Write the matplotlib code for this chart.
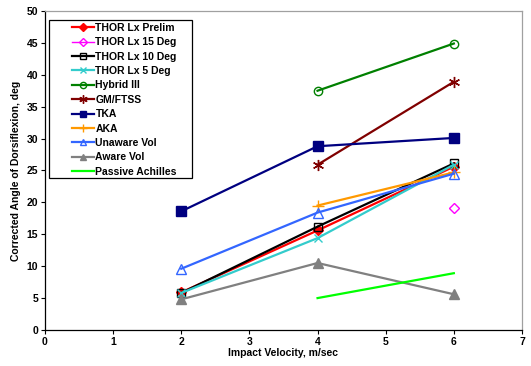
import numpy as np
import matplotlib
matplotlib.use("Agg")
import matplotlib.pyplot as plt
from matplotlib.patches import Rectangle

nan = np.nan
velocity = [2, 4, 6]

series_names = ["THOR Lx Prelim", "THOR Lx 15 Deg", "THOR Lx 10 Deg", "THOR Lx 5 Deg",
                "Hybrid III", "GM/FTSS", "TKA", "AKA", "Unaware Vol", "Aware Vol",
                "Passive Achilles"]

thor_prelim = [5.9, 15.6, 25.6]
thor_15 = [nan, nan, 19.1]
thor_10 = [5.8, 16.2, 26.1]
thor_5 = [5.8, 14.4, 25.9]
hybrid3 = [nan, 37.5, 44.9]
gm_ftss = [nan, 25.9, 38.9]
tka = [18.6, 28.8, 30.1]
aka = [nan, 19.5, 24.7]
unaware = [9.6, 18.4, 24.5]
aware = [4.8, 10.5, 5.6]
passive = [nan, 5.0, 8.9]

data = [thor_prelim, thor_15, thor_10, thor_5, hybrid3, gm_ftss, tka, aka, unaware, aware, passive]

styles = [
	dict(color="#FF0000", marker="D", mfc="#FF0000", ms=5),
	dict(color="#FF00FF", marker="D", mfc="none", ms=5, lw=1.0),
	dict(color="#000000", marker="s", mfc="none", ms=6),
	dict(color="#33CCCC", marker="x", ms=6, mew=1.0),
	dict(color="#008000", marker="o", mfc="none", ms=6),
	dict(color="#800000", marker=(6, 2, 0), ms=8, mew=1.0),
	dict(color="#000080", marker="s", mfc="#000080", ms=6.5),
	dict(color="#FF9900", marker="+", ms=8, mew=1.0),
	dict(color="#3366FF", marker="^", mfc="none", ms=6.5),
	dict(color="#808080", marker="^", mfc="#808080", ms=6.5),
	dict(color="#00FF00", marker=None),
]

plt.rcParams["font.family"] = ["Liberation Sans", "DejaVu Sans"]
plt.rcParams["font.weight"] = "bold"

fig = plt.figure(figsize=(5.31, 3.66), dpi=100)
ax = fig.add_axes([0.0847, 0.0984, 0.8983, 0.8716])

for name, vals, st in zip(series_names, data, styles):
	st = dict(st)
	lw = st.pop("lw", 1.6)
	ax.plot(velocity, vals, label=name, lw=lw, mec=st["color"], **st)

ax.set_xlim(0, 7)
ax.set_ylim(0, 50)
ax.set_xticks(range(0, 8))
ax.set_yticks(range(0, 51, 5))
ax.tick_params(direction="out", length=3, width=0.8, labelsize=7.5, pad=2)
for lab in ax.get_xticklabels() + ax.get_yticklabels():
	lab.set_fontweight("bold")

for s in ("left", "bottom"):
	ax.spines[s].set_color("black")
	ax.spines[s].set_linewidth(0.9)
for s in ("top", "right"):
	ax.spines[s].set_color("#A0A0A0")
	ax.spines[s].set_linewidth(0.9)

ax.set_xlabel("Impact Velocity, m/sec", fontsize=7.5, fontweight="bold", labelpad=1)
ax.set_ylabel("Corrected Angle of Dorsiflexion, deg", fontsize=7.5, fontweight="bold", labelpad=4)

# legend frame drawn separately so it can be wider than the entries (Excel style)
W, H = 531.0, 366.0
ax.add_patch(Rectangle((49 / W, 1 - 178 / H), 143 / W, 158 / H, transform=fig.transFigure,
	facecolor="white", edgecolor="black", lw=0.9, zorder=5, clip_on=False))
leg = ax.legend(loc="upper left", bbox_to_anchor=(72 / W, 1 - 23 / H), bbox_transform=fig.transFigure,
	borderaxespad=0, borderpad=0, frameon=False, fontsize=7.5, markerscale=0.75,
	handlelength=2.1, handletextpad=0.15, labelspacing=0.42)
leg.set_zorder(6)
for t in leg.get_texts():
	t.set_fontweight("bold")

fig.savefig("out.png", dpi=100)
